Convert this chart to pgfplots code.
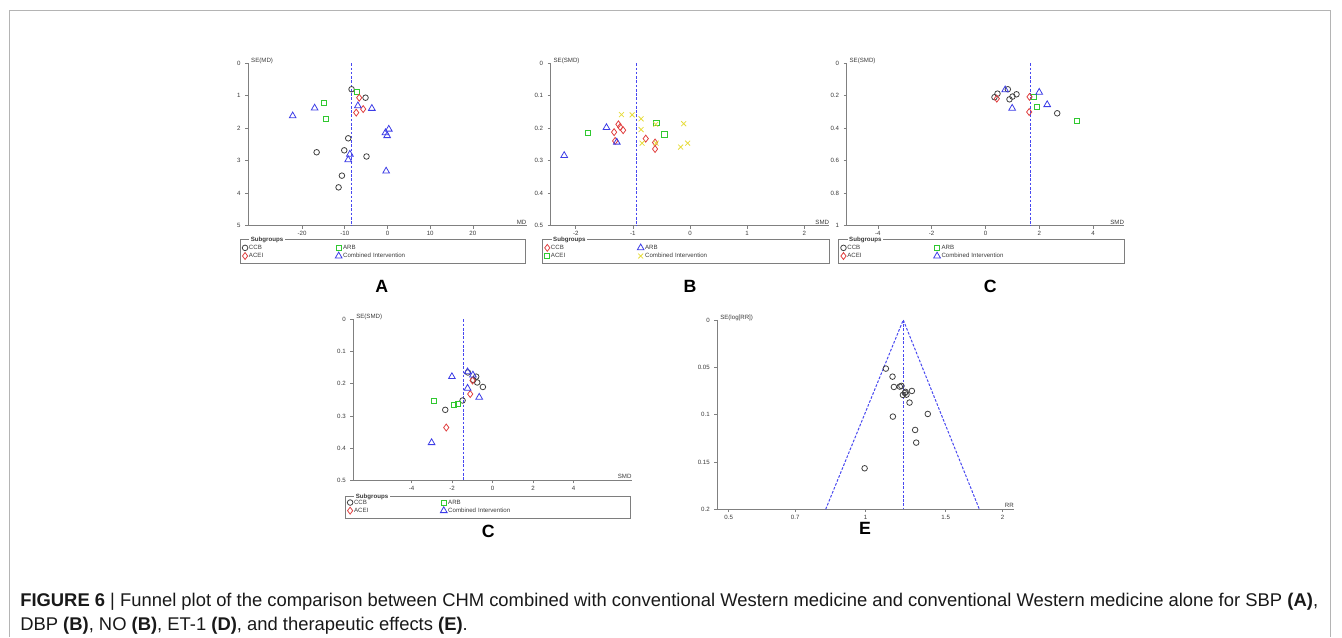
\documentclass[border=0pt]{standalone}
\usepackage{fontspec}
\setmainfont{Liberation Sans}
\usepackage{pgfplots}
\pgfplotsset{compat=1.18}
\definecolor{axgray}{HTML}{808080}
\definecolor{txtgray}{HTML}{3A3A3A}
\definecolor{ccbgray}{HTML}{404040}
\definecolor{mred}{HTML}{E04040}
\definecolor{mgreen}{HTML}{30C830}
\definecolor{mblue}{HTML}{3C3CE6}
\definecolor{lineblue}{HTML}{4848F0}
\definecolor{myellow}{HTML}{E6DC3C}
\definecolor{framegray}{HTML}{B4B4B4}
\newcommand{\tinyf}{\fontsize{4.6}{5.2}\selectfont}

\tikzset{refline/.style={draw=lineblue, dash pattern=on 2pt off 1.2pt, line width=0.75pt}}
\pgfplotsset{
  funnel/.style={
    scale only axis, anchor=south west, y dir=reverse,
    axis x line*=bottom, axis y line*=left,
    axis line style={-, draw=axgray, line width=0.6pt},
    tick style={draw=axgray, line width=0.5pt},
    major tick length=2.2pt, tick align=outside,
    ticklabel style={font=\tinyf, text=txtgray},
    xticklabel style={yshift=1.6pt},
    /pgf/number format/assume math mode=true,
    clip=false,
    legend cell align=left,
    legend style={draw=none, fill=none, at={(axis description cs:0,0)}, anchor=north west,
      xshift=-4.7pt, yshift=-13.4pt, legend columns=2, font=\tinyf,
      inner sep=0pt, column sep=0pt, row sep=0pt,
      nodes={text width=64pt, align=left, inner sep=0.8pt, text height=3.5pt, text depth=1pt, text=txtgray}},
  },
  circ/.style={only marks, mark=o, mark size=2.1pt, color=ccbgray, mark options={line width=0.6pt}},
  diam/.style={only marks, mark=diamond, mark size=2.6pt, color=mred, mark options={line width=0.6pt}},
  sqr/.style={only marks, mark=square, mark size=1.9pt, color=mgreen, mark options={line width=0.6pt}},
  tri/.style={only marks, mark=triangle, mark size=2.9pt, color=mblue, mark options={line width=0.6pt}},
  crs/.style={only marks, mark=x, mark size=2.6pt, color=myellow, mark options={line width=0.6pt}},
}

\begin{document}
\begin{tikzpicture}[x=0.75pt, y=0.75pt]
\path[use as bounding box] (0,0) rectangle (1342,637);
\draw[framegray, line width=0.75pt] (9,0) -- (9,626.3) -- (1330,626.3) -- (1330,0);

% ---- A: SBP (pooled MD -8.41)
\begin{axis}[funnel, at={(186.2pt,308.5pt)}, width=208.8pt, height=121.8pt,
  xmin=-32.6, xmax=32.6, ymin=0, ymax=5,
  xtick={-20,-10,0,10,20}, xticklabels={-20,-10,0,10,20},
  ytick={0,1,2,3,4,5}, yticklabels={0,1,2,3,4,5}]
\addplot[refline, forget plot] coordinates {(-8.41,0) (-8.41,5)};
\addplot[circ] coordinates {(-8.41,0.80) (-5.14,1.06) (-9.19,2.31) (-10.12,2.68) (-16.59,2.74) (-4.91,2.87) (-10.67,3.46) (-11.45,3.82)};
\addplot[sqr] coordinates {(-7.17,0.88) (-14.88,1.22) (-14.49,1.70)};
\addplot[diam] coordinates {(-6.62,1.06) (-5.69,1.41) (-7.32,1.52)};
\addplot[tri] coordinates {(-22.2,1.62) (-17.06,1.38) (-6.93,1.31) (-3.66,1.39) (0.31,2.03) (-0.47,2.14) (-0.08,2.23) (-8.80,2.80) (-9.19,2.97) (-0.31,3.32)};
\legend{CCB,ARB,ACEI,Combined Intervention}
\node[anchor=west, font=\tinyf, text=txtgray, inner sep=0pt, xshift=2pt, yshift=1.7pt] at (axis description cs:0,1) {SE(MD)};
\node[anchor=south east, font=\tinyf, text=txtgray, inner sep=0pt, yshift=1pt] at (axis description cs:1,0) {MD};
\end{axis}

% ---- B: DBP (pooled SMD -0.94)
\begin{axis}[funnel, at={(413.0pt,308.5pt)}, width=209.0pt, height=121.8pt,
  xmin=-2.44, xmax=2.44, ymin=0, ymax=0.5,
  xtick={-2,-1,0,1,2}, xticklabels={-2,-1,0,1,2},
  ytick={0,0.1,0.2,0.3,0.4,0.5}, yticklabels={0,0.1,0.2,0.3,0.4,0.5}]
\addplot[refline, forget plot] coordinates {(-0.94,0) (-0.94,0.5)};
\addplot[diam] coordinates {(-1.253,0.188) (-1.224,0.196) (-1.171,0.206) (-1.329,0.212) (-1.311,0.239) (-0.775,0.232) (-0.612,0.244) (-0.612,0.264)};
\addplot[tri] coordinates {(-2.203,0.284) (-1.463,0.198) (-1.282,0.243)};
\addplot[sqr] coordinates {(-1.795,0.213) (-0.589,0.183) (-0.449,0.219)};
\addplot[crs] coordinates {(-1.200,0.158) (-1.014,0.159) (-0.857,0.171) (-0.857,0.204) (-0.839,0.246) (-0.600,0.188) (-0.594,0.246) (-0.111,0.186) (-0.041,0.246) (-0.163,0.258)};
\legend{CCB,ARB,ACEI,Combined Intervention}
\node[anchor=west, font=\tinyf, text=txtgray, inner sep=0pt, xshift=2pt, yshift=1.7pt] at (axis description cs:0,1) {SE(SMD)};
\node[anchor=south east, font=\tinyf, text=txtgray, inner sep=0pt, yshift=1pt] at (axis description cs:1,0) {SMD};
\end{axis}

% ---- C: NO (pooled SMD 1.66)
\begin{axis}[funnel, at={(635.0pt,308.5pt)}, width=208.2pt, height=121.8pt,
  xmin=-5.16, xmax=5.16, ymin=0, ymax=1,
  xtick={-4,-2,0,2,4}, xticklabels={-4,-2,0,2,4},
  ytick={0,0.2,0.4,0.6,0.8,1}, yticklabels={0,0.2,0.4,0.6,0.8,1}]
\addplot[refline, forget plot] coordinates {(1.66,0) (1.66,1)};
\addplot[circ] coordinates {(0.335,0.209) (0.447,0.187) (0.831,0.160) (1.005,0.205) (0.893,0.222) (1.154,0.191) (2.667,0.308)};
\addplot[sqr] coordinates {(1.787,0.209) (1.911,0.269) (3.387,0.353)};
\addplot[diam] coordinates {(0.422,0.218) (1.638,0.207) (1.625,0.300)};
\addplot[tri] coordinates {(0.732,0.164) (1.998,0.179) (2.295,0.255) (0.993,0.277)};
\legend{CCB,ARB,ACEI,Combined Intervention}
\node[anchor=west, font=\tinyf, text=txtgray, inner sep=0pt, xshift=2pt, yshift=1.7pt] at (axis description cs:0,1) {SE(SMD)};
\node[anchor=south east, font=\tinyf, text=txtgray, inner sep=0pt, yshift=1pt] at (axis description cs:1,0) {SMD};
\end{axis}

% ---- D: ET-1 (pooled SMD -1.45)
\begin{axis}[funnel, at={(265.0pt,117.5pt)}, width=208.8pt, height=120.75pt,
  xmin=-6.88, xmax=6.88, ymin=0, ymax=0.5,
  xtick={-4,-2,0,2,4}, xticklabels={-4,-2,0,2,4},
  ytick={0,0.1,0.2,0.3,0.4,0.5}, yticklabels={0,0.1,0.2,0.3,0.4,0.5}]
\addplot[refline, forget plot] coordinates {(-1.45,0) (-1.45,0.5)};
\addplot[circ] coordinates {(-0.807,0.178) (-0.955,0.188) (-0.757,0.196) (-0.477,0.210) (-1.481,0.252) (-2.337,0.281) (-1.218,0.165)};
\addplot[sqr] coordinates {(-2.897,0.252) (-1.909,0.267) (-1.696,0.262)};
\addplot[diam] coordinates {(-0.988,0.190) (-1.103,0.232) (-2.288,0.336)};
\addplot[tri] coordinates {(-2.008,0.178) (-1.235,0.163) (-0.971,0.173) (-1.235,0.214) (-0.658,0.242) (-3.012,0.383)};
\legend{CCB,ARB,ACEI,Combined Intervention}
\node[anchor=west, font=\tinyf, text=txtgray, inner sep=0pt, xshift=2pt, yshift=1.7pt] at (axis description cs:0,1) {SE(SMD)};
\node[anchor=south east, font=\tinyf, text=txtgray, inner sep=0pt, yshift=1pt] at (axis description cs:1,0) {SMD};
\end{axis}

% ---- E: therapeutic effects (pooled RR 1.21)
\begin{axis}[funnel, at={(538.0pt,95.8pt)}, width=222.5pt, height=142.0pt,
  xmode=log, xmin=0.472, xmax=2.12, ymin=0, ymax=0.2,
  xtick={0.5,0.7,1,1.5,2}, xticklabels={0.5,0.7,1,1.5,2}, minor xtick={},
  ytick={0,0.05,0.1,0.15,0.2}, yticklabels={0,0.05,0.1,0.15,0.2}]
\addplot[refline, forget plot] coordinates {(0.817,0.2) (1.21,0) (1.779,0.2)};
\addplot[refline, forget plot] coordinates {(1.21,0) (1.21,0.2)};
\addplot[circ] coordinates {(1.108,0.0514) (1.146,0.0599) (1.154,0.0708) (1.189,0.0704) (1.199,0.0697) (1.208,0.0792) (1.220,0.0771) (1.230,0.0789) (1.224,0.076) (1.264,0.0750) (1.249,0.0873) (1.148,0.1021) (1.370,0.0993) (1.285,0.1162) (1.292,0.1296) (0.995,0.1567)};
\node[anchor=west, font=\tinyf, text=txtgray, inner sep=0pt, xshift=2pt, yshift=1.7pt] at (axis description cs:0,1) {SE(log[RR])};
\node[anchor=south east, font=\tinyf, text=txtgray, inner sep=0pt, yshift=1pt] at (axis description cs:1,0) {RR};
\end{axis}

% legend frames
\begin{scope}[framegray!70!black, line width=0.5pt]
\draw (240,397.7) rectangle (525,374);
\draw (542.3,397.7) rectangle (829,374);
\draw (838.3,397.7) rectangle (1124,374);
\draw (345,141) rectangle (630.7,118.3);
\end{scope}
\begin{scope}[every node/.style={anchor=west, fill=white, inner xsep=1.2pt, inner ysep=0pt, font=\tinyf\bfseries, text=txtgray}]
\node at (249,397.2) {Subgroups};
\node at (551.3,397.2) {Subgroups};
\node at (847.3,397.2) {Subgroups};
\node at (354,140.5) {Subgroups};
\end{scope}

% panel letters
\begin{scope}[every node/.style={font=\fontsize{13.3}{14}\selectfont\bfseries}]
\node at (381.7,351) {A};
\node at (690,351) {B};
\node at (990.3,351) {C};
\node at (488.3,105.3) {C};
\node at (865,109) {E};
\end{scope}

% caption
\node[anchor=base west, inner sep=0pt, font=\fontsize{13.8}{16}\selectfont, text=black!90] at (20,31)
  {\textbf{FIGURE 6} | Funnel plot of the comparison between CHM combined with conventional Western medicine and conventional Western medicine alone for SBP \textbf{(A)},};
\node[anchor=base west, inner sep=0pt, font=\fontsize{13.8}{16}\selectfont, text=black!90] at (20,7)
  {DBP \textbf{(B)}, NO \textbf{(B)}, ET-1 \textbf{(D)}, and therapeutic effects \textbf{(E)}.};
\end{tikzpicture}
\end{document}
